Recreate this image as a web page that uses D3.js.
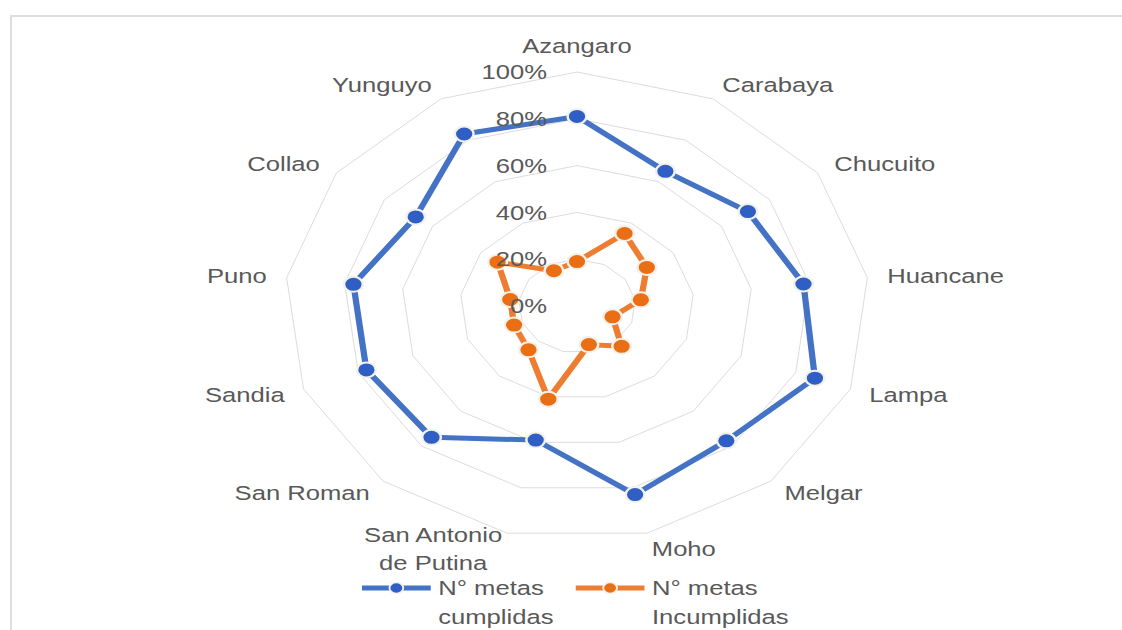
<!DOCTYPE html>
<html>
<head>
<meta charset="utf-8">
<script src="https://cdn.jsdelivr.net/npm/d3@7"></script>
<style>
  body { margin: 0; background: #fff; }
  svg text { font-family: "Liberation Sans", Arial, sans-serif; fill: #595959; }
</style>
</head>
<body>
<svg id="chart" width="1122" height="630"></svg>
<script>
// provinces, clockwise from top
var categories = ['Azangaro', 'Carabaya', 'Chucuito', 'Huancane', 'Lampa', 'Melgar', 'Moho',
  'San Antonio\nde Putina', 'San Roman', 'Sandia', 'Puno', 'Collao', 'Yunguyo'];

var cumplidas = [0.81, 0.65, 0.71, 0.78, 0.87, 0.77, 0.83, 0.59, 0.75, 0.77, 0.77, 0.67, 0.83];
var incumplidas = [0.19, 0.35, 0.29, 0.22, 0.13, 0.23, 0.17, 0.41, 0.25, 0.23, 0.23, 0.33, 0.17];

var tickValues = [0, 0.2, 0.4, 0.6, 0.8, 1];

var seriesNames = ['N° metas\ncumplidas', 'N° metas\nIncumplidas'];

var svg = d3.select('#chart');

// chart frame (light border top and left)
svg.append('path')
  .attr('d', 'M11,630 L11,16 L1122,16')
  .attr('fill', 'none')
  .attr('stroke', '#dedede')
  .attr('stroke-width', 2);

var cx = 577, cy = 306, R = 234, sx = 1.25;
var fontSize = 20.5;

// the whole radar is stretched horizontally like the original picture
var g = svg.append('g')
  .attr('transform', 'translate(' + cx + ',' + cy + ') scale(' + sx + ',1)');

var rScale = d3.scaleLinear().domain([0, 1]).range([0, R]);
var angle = d3.scalePoint().domain(d3.range(categories.length)).range([0, 2 * Math.PI * (categories.length - 1) / categories.length]);

function pt(i, v) {
  var a = angle(i);
  return [rScale(v) * Math.sin(a), -rScale(v) * Math.cos(a)];
}

// grid rings
var ringLine = d3.line().curve(d3.curveLinearClosed);
tickValues.slice(1).forEach(function(t) {
  g.append('path')
    .attr('d', ringLine(categories.map(function(c, i) { return pt(i, t); })))
    .attr('fill', 'none')
    .attr('stroke', '#dcdcdc')
    .attr('stroke-width', 1)
    .attr('vector-effect', 'non-scaling-stroke');
});

// series
var series = [
  { name: seriesNames[0], values: cumplidas, line: '#4472C4', dot: '#2F5FC4' },
  { name: seriesNames[1], values: incumplidas, line: '#ED7D31', dot: '#EA6F14' }
];

series.forEach(function(s) {
  var pts = s.values.map(function(v, i) { return pt(i, v); });
  g.append('path')
    .attr('d', ringLine(pts))
    .attr('fill', 'none')
    .attr('stroke', s.line)
    .attr('stroke-width', 5)
    .attr('stroke-linejoin', 'round');

  g.selectAll(null)
    .data(pts)
    .enter().append('circle')
    .attr('cx', function(d) { return d[0]; })
    .attr('cy', function(d) { return d[1]; })
    .attr('r', 7.5)
    .attr('fill', s.dot)
    .attr('stroke', '#f3f1ea')
    .attr('stroke-width', 2);
});

// value axis labels, drawn over the series like the original
g.selectAll('.tick-label')
  .data(tickValues)
  .enter().append('text')
  .attr('class', 'tick-label')
  .attr('x', -24)
  .attr('y', function(d) { return -rScale(d); })
  .attr('dy', '0.35em')
  .attr('text-anchor', 'end')
  .attr('font-size', fontSize)
  .text(d3.format('.0%'));

// category labels
var labelR = R + 16;
categories.forEach(function(c, i) {
  var a = angle(i);
  var s = Math.sin(a), co = Math.cos(a);
  var x = labelR * s, y = -labelR * co;
  var lines = c.split('\n');
  if (Math.abs(s) < 0.1) y += co > 0 ? -10 : 10;
  var t = g.append('text')
    .attr('font-size', fontSize)
    .attr('text-anchor', 'middle');
  lines.forEach(function(l, j) {
    t.append('tspan')
      .attr('x', 0)
      .attr('y', (j - (lines.length - 1) / 2) * 28)
      .attr('dy', '0.35em')
      .text(l);
  });
  var w = t.node().getBBox().width;
  var shift = Math.abs(s) < 0.1 ? 0 : (s > 0 ? w / 2 : -w / 2);
  t.attr('transform', 'translate(' + (x + shift) + ',' + y + ')');
});

// legend
var legend = svg.append('g')
  .attr('transform', 'translate(' + cx + ',588) scale(' + sx + ',1)');

var legendX = [-172, -1];
series.forEach(function(s, i) {
  var lg = legend.append('g').attr('transform', 'translate(' + legendX[i] + ',0)');
  lg.append('line')
    .attr('x1', 0).attr('x2', 55)
    .attr('y1', 0).attr('y2', 0)
    .attr('stroke', s.line)
    .attr('stroke-width', 5);
  lg.append('circle')
    .attr('cx', 27.5).attr('cy', 0)
    .attr('r', 5.5)
    .attr('fill', s.dot)
    .attr('stroke', '#f3f1ea')
    .attr('stroke-width', 1.5);
  var t = lg.append('text')
    .attr('font-size', fontSize);
  s.name.split('\n').forEach(function(l, j) {
    t.append('tspan')
      .attr('x', 61)
      .attr('y', j * 29)
      .attr('dy', '0.35em')
      .text(l);
  });
});
</script>
</body>
</html>
